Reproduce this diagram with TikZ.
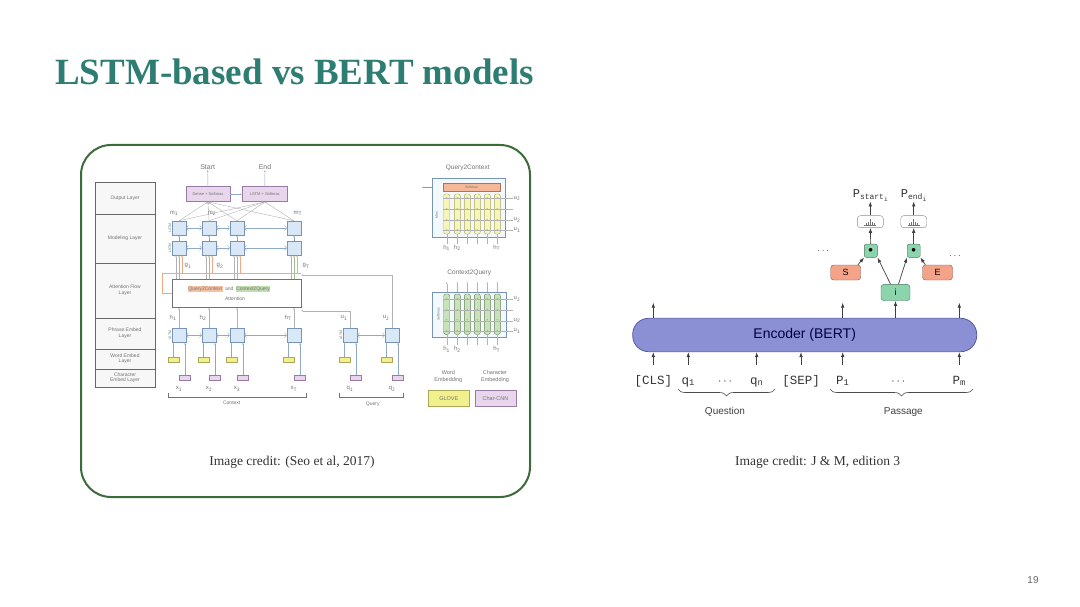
\documentclass[tikz,border=0pt]{standalone}
\usepackage{fontspec}
\setmainfont{Liberation Serif}
\setsansfont{Liberation Sans}
\setmonofont{Liberation Mono}
\usetikzlibrary{positioning,calc,arrows.meta,decorations.pathreplacing}

\begin{document}
\begin{tikzpicture}[x=1pt,y=-1pt]
  % Colors
  \definecolor{titleteal}{RGB}{46,125,115}
  \definecolor{framegreen}{RGB}{60,108,58}
  \definecolor{cellblue}{RGB}{216,232,246}
  \definecolor{cellline}{RGB}{118,148,182}
  \definecolor{lilac}{RGB}{232,214,236}
  \definecolor{lilacline}{RGB}{152,122,162}
  \definecolor{glove}{RGB}{242,240,140}
  \definecolor{gloveline}{RGB}{170,168,90}
  \definecolor{qtoc}{RGB}{242,168,128}
  \definecolor{ctoq}{RGB}{176,214,156}
  \definecolor{encfill}{RGB}{139,143,212}
  \definecolor{encline}{RGB}{86,90,168}
  \definecolor{salmon}{RGB}{244,162,136}
  \definecolor{mint}{RGB}{140,212,172}
  \colorlet{inkgrey}{black!55}
  \colorlet{wiregrey}{black!30}

  % Styles
  \tikzstyle{tiny}=[font=\fontsize{5}{5.6}\selectfont\sffamily,text=inkgrey,inner sep=0.5pt]
  \tikzstyle{sublabel}=[tiny,font=\fontsize{6}{7}\selectfont\sffamily]
  \tikzstyle{lstmtag}=[tiny,font=\fontsize{3.5}{4}\selectfont\sffamily,rotate=90,anchor=south]
  \tikzstyle{layerbox}=[draw=black!60,fill=black!3]
  \tikzstyle{lstm}=[draw=cellline,fill=cellblue,minimum size=14pt,inner sep=0pt]
  \tikzstyle{wordemb}=[draw=gloveline,fill=glove,minimum width=11pt,minimum height=5pt,inner sep=0pt]
  \tikzstyle{charemb}=[draw=lilacline,fill=lilac,minimum width=11pt,minimum height=5pt,inner sep=0pt]
  \tikzstyle{outbox}=[draw=lilacline,fill=lilac,minimum height=15pt,inner sep=0pt,tiny,font=\fontsize{4}{4.5}\selectfont\sffamily]
  \tikzstyle{link}=[-{Latex[length=2pt,width=1.6pt]},draw=cellline!80,line width=0.4pt]
  \tikzstyle{wire}=[draw=wiregrey,line width=0.4pt]
  \tikzstyle{panel}=[draw=cellline,fill=cellblue!30,inner sep=0pt]
  \tikzstyle{plus}=[font=\fontsize{4}{4}\selectfont,text=inkgrey,inner sep=0pt]
  \tikzstyle{arr}=[-{Latex[length=5pt,width=3.6pt]},draw=black!75,line width=0.7pt]
  \tikzstyle{bertbox}=[rounded corners=3pt,minimum height=15pt,inner sep=0pt,font=\fontsize{9}{10}\selectfont\sffamily]
  \tikzstyle{token}=[font=\fontsize{12.5}{13}\selectfont\ttfamily,inner sep=1pt,anchor=base,text=black!80]

  \useasboundingbox (0,0) rectangle (1080,607);

  % Title and frame
  \node[anchor=base west,inner sep=0pt,text=titleteal,font=\fontsize{37}{40}\selectfont\bfseries] (title) at (55,85) {LSTM-based vs BERT models};
  \draw[framegreen,line width=2pt,rounded corners=30pt] (81,145) rectangle (530,497);
  \node[font=\fontsize{13.5}{15}\selectfont,text=black!80] (leftcredit) at (292,462) {Image credit: (Seo et al, 2017)};
  \node[font=\fontsize{13.5}{15}\selectfont,text=black!80] (rightcredit) at (817.7,462) {Image credit: J \& M, edition 3};
  \node[font=\fontsize{10}{12}\selectfont\sffamily,text=black!60] (pagenum) at (1033,580) {19};

  % Layer column
  \foreach \n/\ya/\yb/\txt in {out/182.7/214/Output Layer, mod/214/262.7/Modeling Layer,
      flow/262.7/318/Attention Flow\\Layer, phr/318/349/Phrase Embed\\Layer,
      wrd/349/368.7/Word Embed\\Layer, chr/368.7/387/Character\\Embed Layer}
    \draw[layerbox] (95,\ya) rectangle node[tiny,align=center] (layer\n) {\txt} (155,\yb);

  % Output layer
  \node[outbox,minimum width=44pt] (dense) at (208,194.2) {Dense + Softmax};
  \node[outbox,minimum width=45pt] (lstmsm) at (264.8,194.2) {LSTM + Softmax};
  \node[sublabel,font=\fontsize{7}{8}\selectfont\sffamily] (start) at (207.7,166.7) {Start};
  \node[sublabel,font=\fontsize{7}{8}\selectfont\sffamily] (end) at (265,166.7) {End};
  \draw[link] (dense) -- (start);
  \draw[link] (lstmsm) -- (end);
  \draw[link] (dense) -- (lstmsm);

  % Attention flow
  \node[draw=black!55,fill=white,minimum width=128.4pt,minimum height=28pt,inner sep=0pt] (att) at (236.5,293.3) {};
  \node[tiny,fill=qtoc!70] (qctag) at (205.3,289) {Query2Context};
  \node[tiny,right=1.5pt of qctag] (andtag) {and};
  \node[tiny,fill=ctoq!80,right=1.5pt of andtag] (cqtag) {Context2Query};
  \node[tiny] (atttag) at (235,298.3) {Attention};
  \coordinate (qcline) at (162.7,273.3);

  % Query side cells
  \foreach \i/\x in {1/350,J/392} {
    \node[lstm] (qry\i) at (\x,335.3) {};
    \node[wordemb] (wqry\i) at (\x-5.5,359.2) {};
    \node[charemb] (cqry\i) at (\x+6,377.5) {};
    \node[sublabel] (qlab\i) at (\x,389) {q\textsubscript{\i}};
    \node[sublabel] (ulab\i) at (\x-6,318) {u\textsubscript{\i}};
    \draw[link] (wqry\i.north) -- (wqry\i.north |- qry\i.south);
    \draw[link] (cqry\i.north) -- (cqry\i.north |- qry\i.south);
  }
  \draw[link,<->] (qry1) -- (qryJ);
  \draw[link,draw=wiregrey] (qryJ.north) |- ([yshift=4pt]att.north east);
  \draw[link,draw=wiregrey] (qry1.north) |- ([yshift=-3.3pt]att.south east);
  \node[lstmtag] at (qry1.west) {LSTM};

  % Context side cells
  \foreach \i/\x in {1/179,2/209,3/237,T/294} {
    \node[lstm] (mtop\i) at (\x,228) {};
    \node[lstm] (mbot\i) at (\x,248) {};
    \node[lstm] (ctx\i) at (\x,335.3) {};
    \node[wordemb] (wctx\i) at (\x-5.5,359.2) {};
    \node[charemb] (cctx\i) at (\x+6,377.5) {};
    \node[sublabel] (xlab\i) at (\x,389) {x\textsubscript{\i}};
    \draw[link] (wctx\i.north) -- (wctx\i.north |- ctx\i.south);
    \draw[link] (cctx\i.north) -- (cctx\i.north |- ctx\i.south);
    \draw[link,draw=wiregrey] (ctx\i.north) -- (ctx\i.north |- att.south);
    \draw[link] (mbot\i) -- (mtop\i);
    \draw[link,draw=wiregrey] ([xshift=-3pt]att.north -| mbot\i.south) -- ([xshift=-3pt]mbot\i.south);
    \draw[link,draw=ctoq!90!black] (att.north -| mbot\i.south) -- (mbot\i.south);
    \draw[link,draw=qtoc] ([xshift=3pt]qcline -| mbot\i.south) -- ([xshift=3pt]mbot\i.south);
    \draw[link,draw=wiregrey] (mtop\i.north) -- (dense.south);
    \draw[link,draw=wiregrey] (mtop\i.north) -- (lstmsm.south);
  }
  \draw[qtoc,line width=0.6pt] (att.west) -| (qcline) -- (qcline -| mbotT.east);
  \foreach \a/\b in {1/2,2/3,3/T} {
    \draw[link,<->] (mtop\a) -- (mtop\b);
    \draw[link,<->] (mbot\a) -- (mbot\b);
    \draw[link,<->] (ctx\a) -- (ctx\b);
  }
  \node[lstmtag] at (mtop1.west) {LSTM};
  \node[lstmtag] at (mbot1.west) {LSTM};
  \node[lstmtag] at (ctx1.west) {LSTM};
  \foreach \i/\x in {1/173,2/203,T/288}
    \node[sublabel] (hlab\i) at (\x,318) {h\textsubscript{\i}};
  \foreach \i/\x in {1/174,2/212,T/298}
    \node[sublabel] (mlab\i) at (\x,213.5) {m\textsubscript{\i}};
  \foreach \i/\x in {1/188,2/220,T/306}
    \node[sublabel] (glab\i) at (\x,266) {g\textsubscript{\i}};

  % Context and Query brackets
  \draw[wire,draw=black!55] (168,393) -- (168,396.7) -- (306,396.7) -- (306,393);
  \draw[wire,draw=black!55] (339,393) -- (339,396.7) -- (403,396.7) -- (403,393);
  \node[tiny] (ctxname) at (231.7,403) {Context};
  \node[tiny] (qryname) at (372.7,404) {Query};

  % Query2Context panel
  \node[sublabel,font=\fontsize{6.5}{7}\selectfont\sffamily] (qctitle) at (467.7,168.3) {Query2Context};
  \node[panel,minimum width=72.7pt,minimum height=59.4pt] (qcpanel) at (468.7,208) {};
  \node[fill=qtoc!80,draw=qtoc!70!black,minimum width=57pt,minimum height=8.4pt,tiny,font=\fontsize{3.5}{4}\selectfont\sffamily] (qcmax) at (471.5,187.5) {Softmax};
  \coordinate (qcout) at (421.7,187.5);
  \draw[link,draw=red!60] (qcmax.west -| qcpanel.west) -- (qcout);
  \foreach \x in {446.7,457.3,467.3,477.3,487.3,497.3} {
    \draw[draw=gloveline,fill=glove!60,rounded corners=2pt] (\x-3,194) rectangle (\x+3,234);
    \draw[wire] (\x,234) -- (\x,244);
  }
  \foreach \y in {198.3,209.3,220,230} {
    \draw[wire] (443,\y) -- (513,\y);
    \foreach \x in {446.7,457.3,467.3,477.3,487.3,497.3}
      \node[plus] at (\x,\y) {+};
  }
  \foreach \i/\y in {J/198.3,2/220,1/230}
    \node[sublabel,anchor=west] (qcu\i) at (513,\y) {u\textsubscript{\i}};
  \foreach \i/\x in {1/446.7,2/457.3,T/496.7}
    \node[sublabel] (qch\i) at (\x,248) {h\textsubscript{\i}};
  \node[lstmtag,anchor=center] (qcmaxtag) at (436.7,215) {Max};

  % Context2Query panel
  \node[sublabel,font=\fontsize{6.5}{7}\selectfont\sffamily] (cqtitle) at (469.3,273.3) {Context2Query};
  \node[panel,minimum width=73.7pt,minimum height=45pt] (cqpanel) at (469.2,314.2) {};
  \foreach \x in {446.7,457.3,467.3,477.3,487.3,497.3} {
    \draw[draw=ctoq!60!black,fill=ctoq!70,rounded corners=2pt] (\x-3,294) rectangle (\x+3,334.3);
    \draw[wire] (\x,334.3) -- (\x,345);
    \draw[link,draw=wiregrey] (\x,291.7) -- (\x,281.7);
  }
  \foreach \y in {299,310,320.7,331} {
    \draw[wire] (443,\y) -- (513,\y);
    \foreach \x in {446.7,457.3,467.3,477.3,487.3,497.3}
      \node[plus] at (\x,\y) {+};
  }
  \foreach \i/\y in {J/299,2/320.7,1/331}
    \node[sublabel,anchor=west] (cqu\i) at (513,\y) {u\textsubscript{\i}};
  \foreach \i/\x in {1/446.7,2/457.3,T/496.7}
    \node[sublabel] (cqh\i) at (\x,349.3) {h\textsubscript{\i}};
  \node[lstmtag,anchor=center] (cqmaxtag) at (438.3,314) {Softmax};

  % Legend
  \node[tiny,font=\fontsize{5.5}{6.5}\selectfont\sffamily,align=center] (wordtag) at (448.3,376.5) {Word\\Embedding};
  \node[tiny,font=\fontsize{5.5}{6.5}\selectfont\sffamily,align=center] (chartag) at (495,376.5) {Character\\Embedding};
  \node[draw=gloveline,fill=glove,minimum width=41pt,minimum height=16.7pt,tiny,font=\fontsize{5.5}{6}\selectfont\sffamily] (glove) at (448.8,398.3) {GLOVE};
  \node[draw=lilacline,fill=lilac,minimum width=41pt,minimum height=16.7pt,tiny,font=\fontsize{5.5}{6}\selectfont\sffamily] (charcnn) at (495.5,398.3) {Char-CNN};

  % BERT reader
  \node[draw=encline,fill=encfill,line width=0.8pt,rounded corners=16pt,minimum width=344pt,minimum height=33.4pt,
        font=\fontsize{14}{16}\selectfont\sffamily,text=black!75!blue] (enc) at (804.7,335) {Encoder (BERT)};
  \coordinate (inrow) at (0,365);
  \coordinate (outrow) at (0,302.7);
  \foreach \n/\x/\txt in {cls/653.3/[CLS], qa/688.3/q\textsubscript{1}, qdots/725/$\cdots$, qn/756.7/q\textsubscript{n},
      sep/801/[SEP], pa/842.7/P\textsubscript{1}, pdots/898.3/$\cdots$, pm/959.3/P\textsubscript{m}}
    \node[token] (\n) at (\x,384) {\txt};
  \foreach \n in {cls,qa,qn,sep,pa,pm}
    \draw[arr] (\n |- inrow) -- (\n |- enc.south);
  \foreach \n in {cls,pa,pm}
    \draw[arr] (\n |- enc.north) -- (\n |- outrow);
  \draw[decorate,decoration={brace,mirror,amplitude=7pt},draw=black!70,line width=0.6pt] (678,389) -- (775,389);
  \draw[decorate,decoration={brace,mirror,amplitude=7pt},draw=black!70,line width=0.6pt] (830,389) -- (973,389);
  \node[font=\fontsize{10}{12}\selectfont\sffamily,text=black!75] (question) at (725,411.7) {Question};
  \node[font=\fontsize{10}{12}\selectfont\sffamily,text=black!75] (passage) at (903.3,411.7) {Passage};

  \node[bertbox,fill=mint,draw=mint!55!black,minimum width=29pt,minimum height=16.4pt] (item) at (895.5,292.5) {i};
  \node[bertbox,fill=salmon,draw=salmon!55!black,minimum width=30pt] (sbox) at (845.7,272.5) {S};
  \node[bertbox,fill=salmon,draw=salmon!55!black,minimum width=30pt] (ebox) at (937.5,272.5) {E};
  \node[bertbox,fill=mint,draw=mint!55!black,minimum width=13pt,minimum height=13.3pt,rounded corners=2pt] (dot1) at (870.8,250.7) {$\bullet$};
  \node[bertbox,fill=mint,draw=mint!55!black,minimum width=13pt,minimum height=13.3pt,rounded corners=2pt] (dot2) at (913.7,250.7) {$\bullet$};
  \node[bertbox,fill=white,draw=black!45,minimum width=26pt,minimum height=12pt] (soft1) at (870.3,221.7) {};
  \node[bertbox,fill=white,draw=black!45,minimum width=26pt,minimum height=12pt] (soft2) at (913.7,221.7) {};
  \foreach \o in {soft1,soft2} {
    \foreach \dx/\h in {-4/1.2,-2/2.5,0/5.5,2/3,4/1.5}
      \fill[black!55] ($(\o.center)+(\dx-0.6,3)$) rectangle ($(\o.center)+(\dx+0.6,3-\h)$);
    \draw[black!55,line width=0.3pt] ($(\o.center)+(-6,3)$) -- ($(\o.center)+(6,3)$);
  }
  \node[font=\fontsize{12}{13}\selectfont\ttfamily,inner sep=1pt,anchor=base,text=black!80] (pstart) at (870.7,198) {P\textsubscript{start\textsubscript{i}}};
  \node[font=\fontsize{12}{13}\selectfont\ttfamily,inner sep=1pt,anchor=base,text=black!80] (pend) at (914,198) {P\textsubscript{end\textsubscript{i}}};
  \node[text=black!70] (ldots) at (823.3,251) {$\cdots$};
  \node[text=black!70] (rdots) at (955,256) {$\cdots$};

  \draw[arr] (item.south |- enc.north) -- (item.south);
  \draw[arr] ([xshift=-5pt]item.north) -- (dot1.south east);
  \draw[arr] ([xshift=3pt]item.north) -- (dot2.south west);
  \draw[arr] ([xshift=-3pt]sbox.north east) -- (dot1.south west);
  \draw[arr] ([xshift=3pt]ebox.north west) -- (dot2.south east);
  \draw[arr] (dot1) -- (soft1);
  \draw[arr] (dot2) -- (soft2);
  \draw[arr] (soft1.north) -- ++(0,-14);
  \draw[arr] (soft2.north) -- ++(0,-14);
\end{tikzpicture}
\end{document}
